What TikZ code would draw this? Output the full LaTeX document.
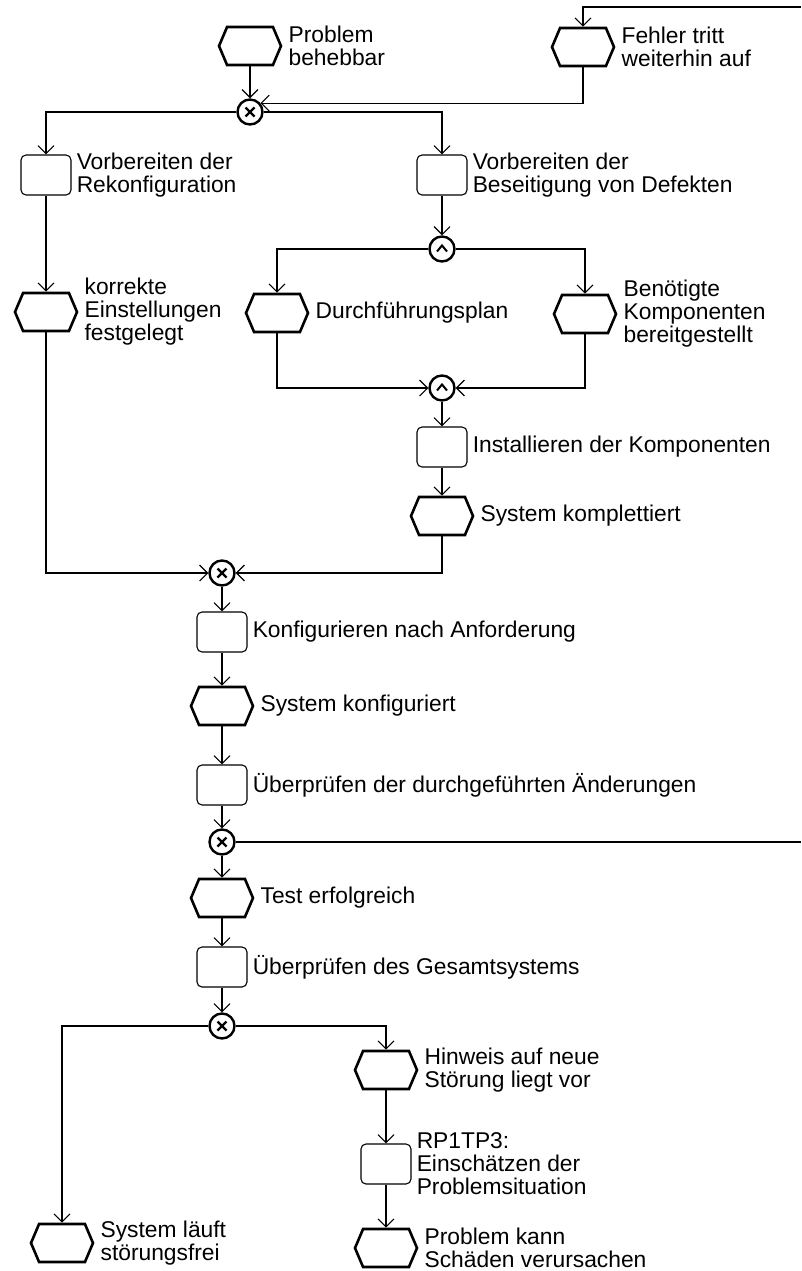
\documentclass[tikz,border=0pt]{standalone}
\usepackage{fontspec}
\setmainfont{Liberation Sans}
\usetikzlibrary{positioning,arrows.meta,shapes.symbols}

\begin{document}
\begin{tikzpicture}[x=1pt, y=-1pt, font=\fontsize{22.8}{23}\selectfont,
  ereignis/.style={draw, line width=2.6pt, signal, signal to=west and east,
                   signal pointer angle=134, minimum width=62pt, minimum height=38pt, inner sep=0pt},
  funktion/.style={draw, line width=1.1pt, rounded corners=5pt, minimum width=50pt,
                   minimum height=40pt, inner sep=0pt},
  knoten/.style={draw, circle, line width=2.4pt, minimum size=25pt, inner sep=0pt},
  xorkn/.style={knoten, path picture={
      \draw[line width=2.3pt] ([shift={(-4.5pt,-4.5pt)}]path picture bounding box.center) -- ([shift={(4.5pt,4.5pt)}]path picture bounding box.center)
                              ([shift={(-4.5pt,4.5pt)}]path picture bounding box.center) -- ([shift={(4.5pt,-4.5pt)}]path picture bounding box.center);}},
  undkn/.style={knoten, path picture={
      \draw[line width=2pt] ([shift={(-5pt,-2.5pt)}]path picture bounding box.center) -- ([shift={(0pt,3.5pt)}]path picture bounding box.center)
                            -- ([shift={(5pt,-2.5pt)}]path picture bounding box.center);}},
  txt/.style={inner sep=0pt, align=left},
  fluss/.style={line width=1.1pt, -{Straight Barb[length=8pt,width=16pt]}}]
  \useasboundingbox (0,0) rectangle (801,1271);

  % obere Ereignisse
  \node[ereignis] (e1) at (250,46) {};
  \node[txt, right=6pt of e1] (t1) {Problem\\behebbar};
  \node[ereignis] (e2) at (583,47) {};
  \node[txt, right=6pt of e2] (t2) {Fehler tritt\\weiterhin auf};
  \coordinate (oben) at (801,7);
  \node[xorkn] (x1) at (250,112) {};

  % zwei Zweige
  \node[funktion] (f1) at (46,175) {};
  \node[txt, right=5pt of f1] (t3) {Vorbereiten der\\Rekonfiguration};
  \node[funktion] (f2) at (442,175) {};
  \node[txt, right=5pt of f2] (t4) {Vorbereiten der\\Beseitigung von Defekten};
  \node[undkn] (u1) at (442,249) {};
  \node[ereignis] (e3) at (46,312) {};
  \node[txt, right=6pt of e3] (t5) {korrekte\\Einstellungen\\festgelegt};
  \node[ereignis] (e4) at (277,313) {};
  \node[txt, right=6pt of e4] (t6) {Durchführungsplan};
  \node[ereignis] (e5) at (585,314) {};
  \node[txt, right=6pt of e5] (t7) {Benötigte\\Komponenten\\bereitgestellt};
  \node[undkn] (u2) at (442,388) {};
  \node[funktion] (f3) at (442,447) {};
  \node[txt, right=5pt of f3] (t8) {Installieren der Komponenten};
  \node[ereignis] (e6) at (442,516) {};
  \node[txt, right=6pt of e6] (t9) {System komplettiert};

  % Hauptstrang
  \node[xorkn] (x2) at (222,573) {};
  \node[funktion] (f4) at (222,632) {};
  \node[txt, right=5pt of f4] (t10) {Konfigurieren nach Anforderung};
  \node[ereignis] (e7) at (222,706) {};
  \node[txt, right=6pt of e7] (t11) {System konfiguriert};
  \node[funktion] (f5) at (222,785) {};
  \node[txt, right=5pt of f5] (t12) {Überprüfen der durchgeführten Änderungen};
  \node[xorkn] (x3) at (222,842) {};
  \coordinate (rechts) at (801,842);
  \node[ereignis] (e8) at (222,898) {};
  \node[txt, right=6pt of e8] (t13) {Test erfolgreich};
  \node[funktion] (f6) at (222,967) {};
  \node[txt, right=5pt of f6] (t14) {Überprüfen des Gesamtsystems};
  \node[xorkn] (x4) at (222,1026) {};

  % Ausgang
  \node[ereignis] (e9) at (62,1243) {};
  \node[txt, right=6pt of e9] (t15) {System läuft\\störungsfrei};
  \node[ereignis] (e10) at (386,1070) {};
  \node[txt, right=6pt of e10] (t16) {Hinweis auf neue\\Störung liegt vor};
  \node[funktion] (f7) at (386,1164) {};
  \node[txt, right=5pt of f7] (t17) {RP1TP3:\\Einschätzen der\\Problemsituation};
  \node[ereignis] (e11) at (386,1248) {};
  \node[txt, right=6pt of e11] (t18) {Problem kann\\Schäden verursachen};

  % Kontrollfluss
  \draw[fluss] (oben) -| (e2);
  \draw[fluss] (e2) |- (x1.40);
  \foreach \a/\b in {e1/x1, f1/e3, f2/u1, u2/f3, f3/e6, x2/f4, f4/e7, e7/f5, f5/x3,
                     x3/e8, e8/f6, f6/x4, e10/f7, f7/e11}
    \draw[fluss] (\a) -- (\b);
  \foreach \a/\b in {x1/f1, x1/f2, u1/e4, u1/e5, x4/e9, x4/e10}
    \draw[fluss] (\a) -| (\b);
  \foreach \a/\b in {e4/u2, e5/u2, e3/x2, e6/x2}
    \draw[fluss] (\a) |- (\b);
  \draw[line width=1.1pt] (x3) -- (rechts);
\end{tikzpicture}
\end{document}
